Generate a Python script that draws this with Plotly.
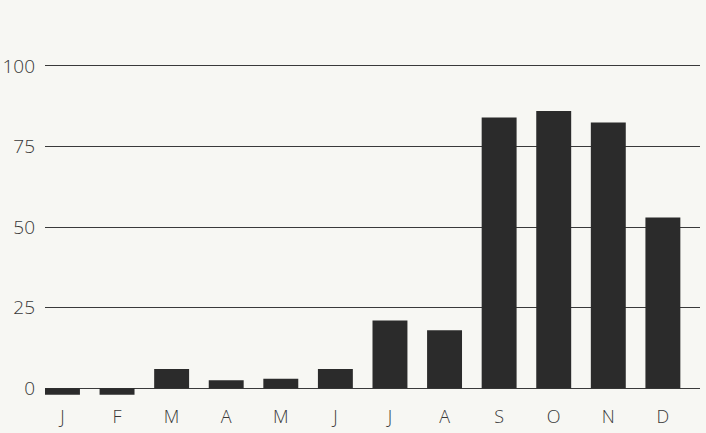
import plotly.graph_objects as go

months = ["J", "F", "M", "A", "M", "J", "J", "A", "S", "O", "N", "D"]
values = [-2, -2, 6, 2.5, 3, 6, 21, 18, 84, 86, 82.5, 53]
y_ticks = [0, 25, 50, 75, 100]

x_idx = list(range(len(months)))
BG = "#f7f7f3"
TXT = "#383838"
FONT = "Open Sans, Liberation Sans, Arial, sans-serif"

fig = go.Figure()
fig.add_trace(go.Bar(
    x=x_idx, y=values,
    marker=dict(color="#2b2b2b", line=dict(width=0)),
    width=0.64,
))

fig.update_layout(
    width=706, height=433,
    margin=dict(l=45, r=6, t=50, b=33),
    paper_bgcolor=BG,
    plot_bgcolor=BG,
    showlegend=False,
    font=dict(family=FONT, size=18, color=TXT, weight=300),
    xaxis=dict(
        tickmode="array", tickvals=x_idx, ticktext=months,
        range=[-0.32, 11.68],
        showgrid=False, zeroline=False, showline=False,
        ticks="", ticklabelstandoff=4, automargin=False,
        tickfont=dict(family=FONT, size=18, color=TXT, weight=300),
    ),
    yaxis=dict(
        tickmode="array", tickvals=y_ticks,
        range=[-3.63, 104.96],
        showgrid=True, gridcolor="#3a3a3a", gridwidth=1,
        zeroline=True, zerolinecolor="#3a3a3a", zerolinewidth=1,
        showline=False, ticks="", ticklabelstandoff=9, automargin=False,
        tickfont=dict(family=FONT, size=19, color=TXT, weight=300),
    ),
)

fig.write_html(
    "out.html",
    config={"displayModeBar": False},
    post_script="document.body.style.margin='0';document.body.style.background='%s';" % BG,
)
